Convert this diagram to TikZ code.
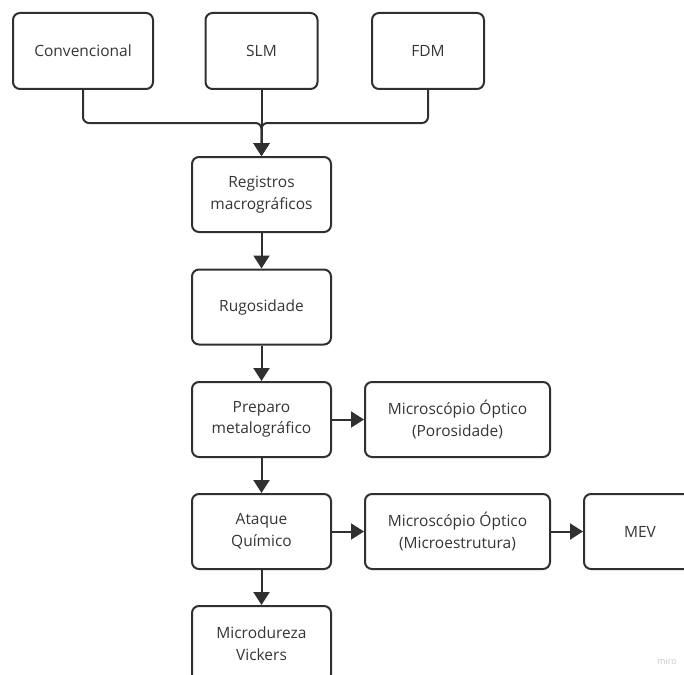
\documentclass[tikz,border=0pt]{standalone}
\usepackage{fontspec}
\setmainfont{Open Sans}
\usetikzlibrary{arrows.meta}
\definecolor{lineC}{HTML}{303030}
\definecolor{textC}{HTML}{363636}
\definecolor{wmC}{HTML}{C8C8C8}
\tikzset{
  box/.style={draw=lineC, line width=2pt, rounded corners=7pt, fill=white,
    text=textC, align=center, inner sep=0pt,
    font=\fontsize{15.5}{21.5}\selectfont},
  conn/.style={draw=lineC, line width=2pt, rounded corners=6pt,
    -{Triangle[length=13pt,width=16pt]}}
}
\begin{document}
\begin{tikzpicture}[x=1pt,y=-1pt]
\useasboundingbox (0,0) rectangle (684,674);
\clip (0,0) rectangle (684,674);
\node[box, minimum width=140pt, minimum height=76pt] (conv) at (83,51) {Convencional};
\node[box, minimum width=112pt, minimum height=76pt] (slm) at (261.5,51) {SLM};
\node[box, minimum width=112pt, minimum height=76pt] (fdm) at (428,51) {FDM};
\node[box, minimum width=139pt, minimum height=75pt] (reg) at (261.5,194.5) {Registros\\macrográficos};
\node[box, minimum width=139pt, minimum height=75pt] (rug) at (261.5,307) {Rugosidade};
\node[box, minimum width=139pt, minimum height=75pt] (prep) at (261.5,419.5) {Preparo\\metalográfico};
\node[box, minimum width=185pt, minimum height=75pt] (poro) at (457.5,419.5) {Microscópio Óptico\\(Porosidade)};
\node[box, minimum width=139pt, minimum height=75pt] (ataq) at (261.5,531.5) {Ataque\\Químico};
\node[box, minimum width=185pt, minimum height=75pt] (micro) at (457.5,531.5) {Microscópio Óptico\\(Microestrutura)};
\node[box, minimum width=112pt, minimum height=75pt] (mev) at (640,531.5) {MEV};
\node[box, minimum width=139pt, minimum height=75pt] (vick) at (261.5,643.5) {Microdureza\\Vickers};
\coordinate (join) at (261.5,123);
\draw[conn] (conv.south) |- (join) -- (reg.north);
\draw[conn] (fdm.south) |- (join) -- (reg.north);
\draw[conn] (slm.south) -- (reg.north);
\draw[conn] (reg) -- (rug);
\draw[conn] (rug) -- (prep);
\draw[conn] (prep) -- (ataq);
\draw[conn] (ataq) -- (vick);
\draw[conn] (prep) -- (poro);
\draw[conn] (ataq) -- (micro);
\draw[conn] (micro) -- (mev);
\node[text=wmC, font=\fontsize{9}{10}\selectfont, inner sep=0pt] (wm) at (667,661) {miro};
\end{tikzpicture}
\end{document}
